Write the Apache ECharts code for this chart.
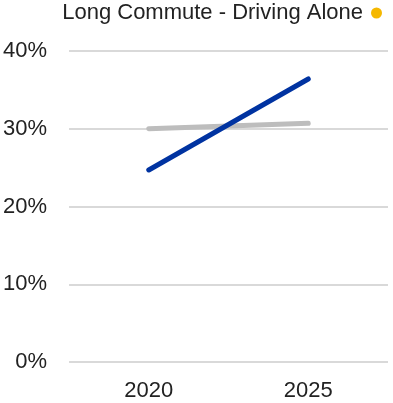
<!DOCTYPE html>
<html><head><meta charset="utf-8">
<script src="https://cdn.jsdelivr.net/npm/echarts@6/dist/echarts.min.js"></script>
<style>html,body{margin:0;padding:0;background:#fff}#c{width:393px;height:403px}</style>
</head><body><div id="c"></div>
<script>
const categories = ['2020', '2025'];
const grayValues = [30.0, 30.7];
const blueValues = [24.7, 36.4];
const legendName = 'Long Commute - Driving Alone';
const yTicks = [0, 10, 20, 30, 40];

const chart = echarts.init(document.getElementById('c'), null, {renderer: 'canvas'});
chart.setOption({
  animation: false,
  textStyle: {fontFamily: 'Liberation Sans, Arial, sans-serif'},
  legend: {
    right: 11, top: 2, padding: 0,
    align: 'right',
    icon: 'circle',
    itemWidth: 11, itemHeight: 11, itemGap: 6,
    data: [legendName],
    textStyle: {fontSize: 22, color: '#222', fontFamily: 'Liberation Sans, Arial, sans-serif', padding: [0, 3, 0, 0]}
  },
  grid: {left: 68, right: 5, top: 51, bottom: 41, containLabel: false},
  xAxis: {
    type: 'category', data: categories, boundaryGap: true,
    axisLine: {show: false}, axisTick: {show: false},
    axisLabel: {fontSize: 22, color: '#222', margin: 18}
  },
  yAxis: {
    type: 'value', min: 0, max: 40, interval: 10,
    axisLine: {show: false}, axisTick: {show: false},
    splitLine: {lineStyle: {color: '#d9d9d9', width: 2}},
    axisLabel: {fontSize: 22, color: '#222', margin: 22, formatter: v => yTicks.includes(v) ? v + '%' : ''}
  },
  series: [
    {name: legendName, type: 'line', data: [], itemStyle: {color: '#f5b800'}, showSymbol: false},
    {name: 'gray', type: 'line', data: grayValues, showSymbol: false,
     lineStyle: {color: '#bdbdbd', width: 5, cap: 'round'}, itemStyle: {color: '#bdbdbd'}},
    {name: 'blue', type: 'line', data: blueValues, showSymbol: false,
     lineStyle: {color: '#0033a1', width: 5, cap: 'round'}, itemStyle: {color: '#0033a1'}}
  ]
});
</script></body></html>
